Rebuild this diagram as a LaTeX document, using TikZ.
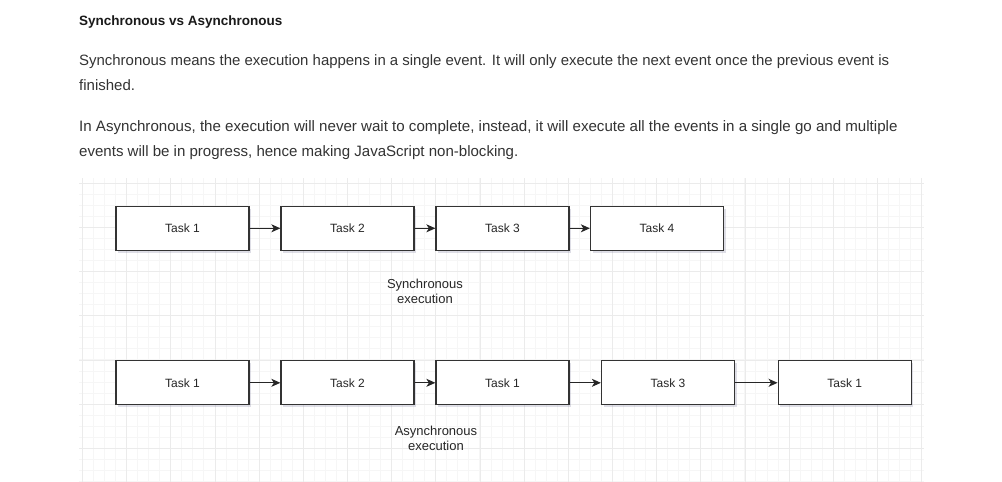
\documentclass[tikz,border=0pt]{standalone}
\usepackage{fontspec}
\setmainfont{Liberation Sans}
\usetikzlibrary{arrows.meta,shadows}
\definecolor{bodytext}{HTML}{333333}
\definecolor{headtext}{HTML}{1A1A1A}
\definecolor{gridminor}{HTML}{F6F6F6}
\definecolor{gridmajor}{HTML}{EBEBEB}
\definecolor{boxline}{HTML}{333333}
\definecolor{shadowc}{HTML}{6A6A90}
\tikzset{
  taskbox/.style={draw=boxline, line width=1.3pt, fill=white, minimum width=133pt, minimum height=44pt, inner sep=0pt,
    font=\fontsize{12}{14}\selectfont, text=black!85,
    drop shadow={shadow xshift=2pt, shadow yshift=-2.5pt, opacity=0.22, fill=shadowc}},
  flow/.style={draw=black!85, line width=1pt, -{Stealth[length=9pt,width=8pt,inset=2.5pt]}},
  caption/.style={align=center, font=\fontsize{13}{15}\selectfont, text=black!85, inner sep=0pt},
  bodyline/.style={anchor=base west, inner sep=0pt, text=bodytext, font=\fontsize{15}{18}\selectfont},
}
\begin{document}
\begin{tikzpicture}[x=1pt,y=-1pt]
\useasboundingbox (0,0) rectangle (1002,482);
\fill[white] (0,0) rectangle (1002,482);
% grid
\begin{scope}
\clip (79,178) rectangle (924,482);
\foreach \i in {0,...,77} {
  \pgfmathsetmacro{\xx}{82.5+11.04*\i}
  \draw[gridminor, line width=0.9pt] (\xx,178) -- (\xx,482);
}
\foreach \i in {-1,...,27} {
  \pgfmathsetmacro{\yy}{183.3+11.04*\i}
  \draw[gridminor, line width=0.9pt] (79,\yy) -- (924,\yy);
}
\foreach \i in {0,...,19} {
  \pgfmathsetmacro{\xx}{82.5+44.17*\i}
  \draw[gridmajor, line width=0.9pt] (\xx,178) -- (\xx,482);
}
\foreach \i in {0,...,6} {
  \pgfmathsetmacro{\yy}{183.3+44.17*\i}
  \draw[gridmajor, line width=0.9pt] (79,\yy) -- (924,\yy);
}
\end{scope}
% text
\node[anchor=base west, inner sep=0pt, text=headtext, font=\bfseries\fontsize{13.5}{16}\selectfont] (head) at (79,25) {Synchronous vs Asynchronous};
\node[bodyline, font=\fontsize{14.95}{18}\selectfont] (l1) at (79,65.5) {Synchronous means the execution happens in a single event. It will only execute the next event once the previous event is};
\node[bodyline] (l2) at (79,90.5) {finished.};
\node[bodyline, font=\fontsize{15.1}{18}\selectfont] (l3) at (79,131) {In Asynchronous, the execution will never wait to complete, instead, it will execute all the events in a single go and multiple};
\node[bodyline, font=\fontsize{15.05}{18}\selectfont] (l4) at (79,156) {events will be in progress, hence making JavaScript non-blocking.};
% row 1
\node[taskbox] (a1) at (182.5,228.3) {Task 1};
\node[taskbox] (a2) at (347.5,228.3) {Task 2};
\node[taskbox] (a3) at (502.5,228.3) {Task 3};
\node[taskbox] (a4) at (657,228.3) {Task 4};
\draw[flow] (a1) -- (a2);
\draw[flow] (a2) -- (a3);
\draw[flow] (a3) -- (a4);
\node[caption] (synclab) at (425,291.5) {Synchronous\\execution};
% row 2
\node[taskbox] (b1) at (182.5,382.8) {Task 1};
\node[taskbox] (b2) at (347.5,382.8) {Task 2};
\node[taskbox] (b3) at (502.5,382.8) {Task 1};
\node[taskbox] (b4) at (668,382.8) {Task 3};
\node[taskbox] (b5) at (844.7,382.8) {Task 1};
\draw[flow] (b1) -- (b2);
\draw[flow] (b2) -- (b3);
\draw[flow] (b3) -- (b4);
\draw[flow] (b4) -- (b5);
\node[caption] (asynclab) at (436,438.5) {Asynchronous\\execution};
\end{tikzpicture}
\end{document}
